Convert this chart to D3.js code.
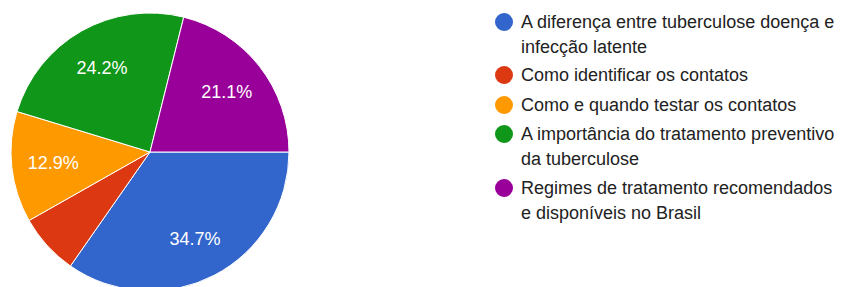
<!DOCTYPE html>
<html lang="pt">
<head>
<meta charset="UTF-8">
<title>Pizza</title>
<script src="https://d3js.org/d3.v7.min.js"></script>
<style>
  body { margin: 0; background: #fff; font-family: "Liberation Sans", Arial, sans-serif; }
  svg { display: block; }
</style>
</head>
<body>
<svg id="chart" width="852" height="287"></svg>
<script>
// dados
const categories = [
  "A diferença entre tuberculose doença e infecção latente",
  "Como identificar os contatos",
  "Como e quando testar os contatos",
  "A importância do tratamento preventivo da tuberculose",
  "Regimes de tratamento recomendados e disponíveis no Brasil"
];
const legendLines = [
  ["A diferença entre tuberculose doença e", "infecção latente"],
  ["Como identificar os contatos"],
  ["Como e quando testar os contatos"],
  ["A importância do tratamento preventivo", "da tuberculose"],
  ["Regimes de tratamento recomendados", "e disponíveis no Brasil"]
];
const values = [34.7, 7.1, 12.9, 24.2, 21.1];
const colors = ["#3366cc", "#dc3912", "#ff9900", "#109618", "#990099"];

const svg = d3.select("#chart");
const cx = 150, cy = 152, radius = 139;

const pie = d3.pie()
  .sort(null)
  .value(d => d)
  .startAngle(Math.PI / 2)
  .endAngle(Math.PI / 2 + 2 * Math.PI);

const arc = d3.arc().innerRadius(0).outerRadius(radius);
const labelArc = d3.arc().innerRadius(radius * 0.7).outerRadius(radius * 0.7);

const g = svg.append("g").attr("transform", `translate(${cx},${cy})`);
const arcs = pie(values);

g.selectAll("path")
  .data(arcs)
  .enter().append("path")
  .attr("d", arc)
  .attr("fill", (d, i) => colors[i])
  .attr("stroke", "#fff")
  .attr("stroke-width", 1);

// rótulos só nas fatias grandes
g.selectAll("text.pct")
  .data(arcs.filter(d => d.data >= 10))
  .enter().append("text")
  .attr("class", "pct")
  .attr("transform", d => `translate(${labelArc.centroid(d)})`)
  .attr("text-anchor", "middle")
  .attr("dy", "0.35em")
  .attr("fill", "#fff")
  .style("font-size", "18px")
  .text(d => d.data.toFixed(1) + "%");

// legenda
const legend = svg.append("g").attr("transform", "translate(504,0)");
const itemTops = [22, 75, 105, 134, 188];
const lineH = 25;

legendLines.forEach((lines, i) => {
  const item = legend.append("g").attr("transform", `translate(0,${itemTops[i]})`);
  item.append("circle")
    .attr("r", 9)
    .attr("fill", colors[i]);
  lines.forEach((ln, j) => {
    item.append("text")
      .attr("x", 17)
      .attr("y", j * lineH)
      .attr("dy", "0.35em")
      .attr("fill", "#222")
      .style("font-size", "18px")
      .text(ln);
  });
});
</script>
</body>
</html>
